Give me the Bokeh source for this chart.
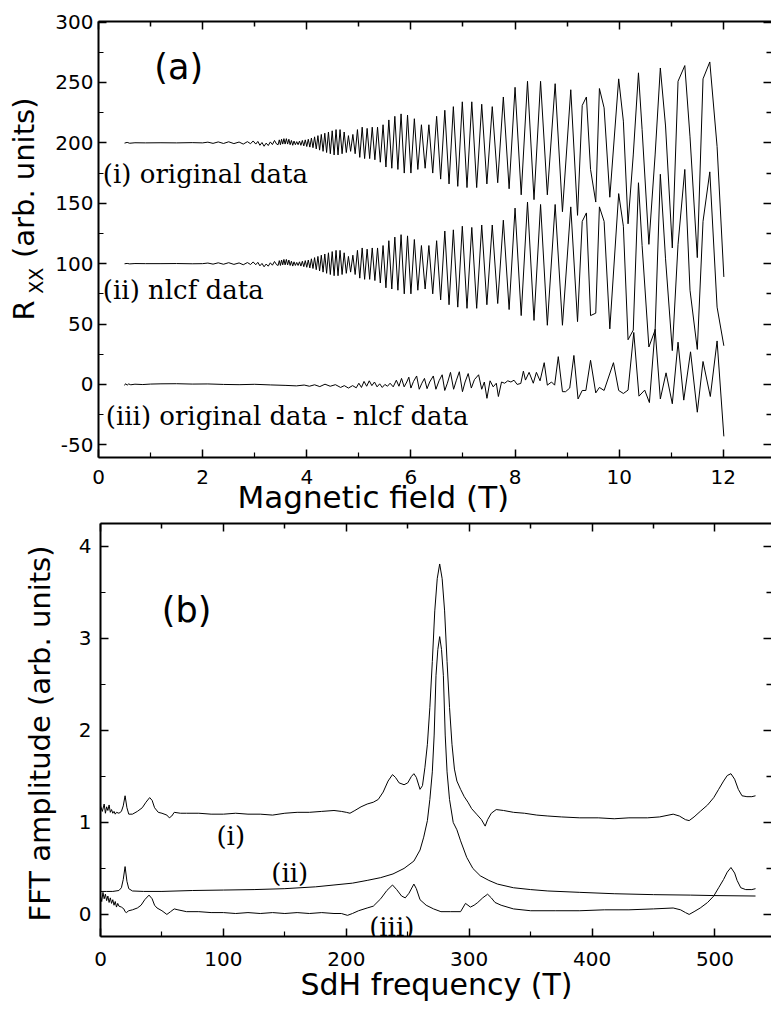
import math
from bokeh.plotting import figure
from bokeh.models import Range1d, LinearAxis, FixedTicker, Title
from bokeh.layouts import column, row
from bokeh.embed import file_html
from bokeh.resources import INLINE
from bokeh.core.properties import value

# ---------------- panel (a) data : magnetic field (T) ----------------
field_low = [0.50, 0.55, 0.60, 0.70, 0.90, 1.20, 1.50, 1.80, 2.00, 2.10, 2.20, 2.30, 2.40, 2.50,
             2.60, 2.70, 2.78, 2.86, 2.92, 2.97, 3.02, 3.06, 3.10, 3.14, 3.18, 3.22, 3.26, 3.30,
             3.34, 3.38, 3.42]
field_mid = [3.450, 3.472, 3.494, 3.516, 3.538, 3.561, 3.584, 3.608, 3.632, 3.656, 3.680, 3.705,
             3.730, 3.755, 3.781, 3.807, 3.833, 3.860, 3.887, 3.915, 3.943, 3.971, 4.000, 4.029,
             4.059, 4.089, 4.119, 4.150, 4.182, 4.214, 4.246, 4.279, 4.313, 4.346, 4.381, 4.416,
             4.452, 4.488, 4.525, 4.562, 4.600, 4.639, 4.678, 4.718, 4.759, 4.800, 4.842, 4.885,
             4.929, 4.973, 5.018, 5.064, 5.111, 5.159, 5.208, 5.257, 5.308, 5.359, 5.412, 5.465,
             5.520, 5.576, 5.633, 5.691, 5.750, 5.811, 5.872, 5.935, 6.000, 6.066, 6.133, 6.202,
             6.273, 6.345, 6.419, 6.494, 6.571, 6.651, 6.732, 6.815, 6.900, 6.987, 7.077, 7.169,
             7.263, 7.360, 7.459, 7.562, 7.667, 7.775, 7.886, 8.000, 8.118, 8.239, 8.364]
field_high = [8.49, 8.62, 8.77, 8.91, 9.07, 9.20, 9.29, 9.37, 9.45, 9.55, 9.62, 9.71, 9.82, 9.99,
              10.08, 10.17, 10.27, 10.37, 10.44, 10.57, 10.69, 10.79, 10.89, 11.02, 11.13, 11.26,
              11.36, 11.50, 11.61, 11.74, 11.88, 12.01]

original_low = [199.8, 200.4, 199.7, 200.1, 200.0, 200.1, 200.0, 200.2, 200.0, 200.6, 199.6, 200.8,
                199.5, 200.9, 199.4, 200.7, 199.0, 201.0, 199.3, 201.6, 199.0, 201.2, 198.0, 200.3,
                197.2, 199.8, 197.8, 200.8, 198.6, 202.0, 199.0]
original_mid = [198.5, 202.5, 198.5, 203, 199, 203.5, 199, 203.5, 199, 203, 198.5, 202, 198, 201.5,
                198.5, 201, 198.5, 201.5, 198, 202, 197.5, 202.5, 197, 203, 196.5, 204, 196, 205,
                195, 206, 194, 207, 193, 208, 192, 209, 191, 210, 190, 211, 190, 211, 191, 209,
                192, 206, 193, 207, 191, 211, 188, 213, 187, 212, 187, 213, 186, 213, 184, 215,
                180, 219, 179, 222, 178, 224, 175, 223, 175, 220, 178, 215, 179, 215, 175, 222,
                170, 227, 166, 230, 164, 234, 163, 234, 163, 232, 166, 230, 167, 238, 162, 246,
                157, 251, 153]
original_high = [251, 157, 249, 143, 244, 140, 231, 238, 178, 151, 245, 229, 155, 253, 218, 133,
                 190, 258, 211, 116, 190, 262, 214, 113, 251, 264, 205, 105, 253, 267, 197, 89]

nlcf_low = [99.9, 100.2, 99.8, 100.1, 100.0, 100.0, 100.1, 99.9, 100.0, 100.5, 99.6, 100.7, 99.5,
            100.8, 99.4, 100.6, 99.1, 100.9, 99.3, 101.4, 99.1, 101.1, 98.2, 100.2, 97.4, 99.7,
            97.9, 100.7, 98.7, 101.8, 99.1]
nlcf_mid = [98.5, 102.5, 98.5, 103, 99, 103.5, 99, 103.5, 99, 103, 98.5, 102, 98, 101.5, 98.5,
            101, 98.5, 101.5, 98, 102, 97.5, 102.5, 97, 103, 96.5, 104, 96, 105, 95, 106, 94, 107,
            93, 108, 92, 109, 91, 110, 90, 111, 90, 111, 91, 109, 92, 106, 93, 107, 91, 111, 88,
            113, 87, 112, 87, 113, 86, 113, 84, 115, 80, 119, 79, 122, 78, 124, 75, 123, 75, 120,
            78, 115, 79, 115, 75, 119, 70, 127, 66, 128, 64, 131, 63, 130, 63, 132, 66, 132, 67,
            136, 62, 146, 57, 151, 53]
nlcf_high = [149, 49, 149, 49, 147, 52, 135, 142, 57, 59, 147, 135, 46, 158, 131, 37, 45, 167,
             115, 31, 45, 174, 104, 28, 116, 178, 78, 29, 135, 176, 64, 32]

diff_field = [0.50, 0.52, 0.55, 0.58, 0.62, 0.70, 0.85, 1.00, 1.20, 1.50, 1.80, 2.10, 2.40, 2.70,
              3.00, 3.30, 3.60, 3.80, 3.95, 4.05, 4.15, 4.25, 4.35, 4.45, 4.55, 4.65, 4.72, 4.80,
              4.88, 4.95, 5.00, 5.05, 5.10, 5.15, 5.20, 5.25, 5.30, 5.35, 5.40, 5.45, 5.50, 5.55,
              5.60, 5.66, 5.72, 5.77, 5.82, 5.87, 5.92, 5.96, 6.00, 6.05, 6.11, 6.16, 6.21, 6.26,
              6.31, 6.36, 6.43, 6.48, 6.54, 6.60, 6.65, 6.70, 6.76, 6.82, 6.87, 6.93, 6.99, 7.04,
              7.10, 7.16, 7.22, 7.30, 7.36, 7.41, 7.46, 7.52, 7.58, 7.64, 7.68, 7.74, 7.80, 7.86,
              7.92, 7.98, 8.04, 8.11, 8.16, 8.20, 8.27, 8.35, 8.41, 8.48, 8.56, 8.62, 8.70, 8.76,
              8.83, 8.91, 8.97, 9.05, 9.13, 9.21, 9.29, 9.36, 9.45, 9.55, 9.62, 9.71, 9.89, 9.99,
              10.08, 10.17, 10.28, 10.38, 10.49, 10.58, 10.69, 10.79, 10.90, 11.02, 11.13, 11.24,
              11.37, 11.50, 11.61, 11.75, 11.88, 12.01]
diff_values = [-0.8, 0.6, -0.6, 0.4, -0.3, 0.2, -0.1, 0.3, 0.5, 0.6, 0.3, 0.4, 0.0, -0.2, 0.1,
               -0.4, -0.8, -1.2, -0.5, -1.5, -0.3, -1.8, 0.2, -1.5, -0.2, -2.5, -1.0, -3.0, -1.0,
               -2.8, 1.0, -2.5, 2.5, -1.5, 3.0, -1.0, 2.0, -2.0, 0.5, -2.5, 0.0, -1.5, 1.0, -2.0,
               3.5, -1.5, 5.0, -2.0, 2.0, 6.0, -3.0, 2.5, 7.0, -4.0, 1.0, 5.0, -3.5, 2.0, 7.0,
               -4.0, 3.0, 8.0, -5.0, 1.0, 10.0, -4.0, 3.0, 10.5, -6.0, 2.0, 9.0, -3.0, 4.0, 8.0,
               -4.0, 2.0, -11.5, 3.0, -2.0, 1.0, -10.0, 2.0, 1.0, 3.0, 2.0, 3.5, 0.0, 0.8, 11.0,
               3.6, 10.0, 1.0, 10.0, 3.0, 18.0, -0.6, 2.0, -0.6, 23.0, -6.0, -6.0, -3.0, 24.0,
               -12.0, -5.0, -5.0, 20.0, -7.0, -2.5, -5.0, 18.0, -5.0, -7.5, -4.7, 43.0, -9.7,
               -4.7, -15.0, 45.6, -12.0, 9.6, -16.0, 35.0, -13.0, 27.0, -23.0, 19.0, -10.0,
               36.0, -43.0]

# ---------------- panel (b) data : SdH frequency (T) ----------------
fft_orig_f = [0, 1.5, 3, 4, 5, 6, 7, 8, 9, 10, 11, 12, 13, 15, 17, 18.5, 20, 21.5, 23, 26, 30, 34,
              37, 40, 42, 44, 47, 50, 54, 56, 58, 60, 65, 70, 80, 90, 100, 110, 120, 130, 140,
              150, 160, 170, 180, 190, 196, 200, 203, 207, 212, 217, 222, 226, 230, 234, 237.6,
              240, 243, 247, 250, 253, 255, 257, 260, 262, 264, 266, 268, 270, 272, 274, 276,
              278, 280, 282, 284, 286, 288, 290, 293, 296, 299, 302, 306, 310, 313, 315, 318,
              322, 328, 336, 345, 355, 364, 375, 390, 405, 418, 430, 445, 455, 466, 471, 476,
              479, 483, 488, 494, 499, 503, 507, 510, 513, 516, 519, 522, 526, 530, 533]
fft_orig_a = [1.18, 1.12, 1.20, 1.10, 1.17, 1.13, 1.19, 1.11, 1.14, 1.10, 1.12, 1.09, 1.11, 1.10,
              1.12, 1.18, 1.29, 1.16, 1.09, 1.09, 1.12, 1.16, 1.22, 1.27, 1.24, 1.16, 1.11, 1.10,
              1.08, 1.05, 1.07, 1.11, 1.10, 1.10, 1.10, 1.09, 1.09, 1.10, 1.09, 1.09, 1.08, 1.10,
              1.11, 1.11, 1.12, 1.13, 1.12, 1.11, 1.10, 1.13, 1.17, 1.20, 1.22, 1.25, 1.33, 1.45,
              1.52, 1.49, 1.43, 1.41, 1.43, 1.50, 1.53, 1.49, 1.36, 1.40, 1.60, 1.85, 2.25, 2.75,
              3.30, 3.65, 3.81, 3.65, 3.30, 2.75, 2.25, 1.85, 1.58, 1.45, 1.36, 1.28, 1.22, 1.15,
              1.09, 1.03, 0.96, 1.03, 1.10, 1.14, 1.13, 1.11, 1.10, 1.08, 1.07, 1.06, 1.05, 1.05,
              1.04, 1.05, 1.05, 1.06, 1.09, 1.07, 1.03, 1.02, 1.06, 1.12, 1.19, 1.27, 1.36, 1.45,
              1.51, 1.53, 1.47, 1.36, 1.29, 1.28, 1.28, 1.29]

fft_nlcf_f = [0, 5, 10, 15, 17, 18.5, 20, 21.5, 23, 26, 35, 50, 75, 100, 125, 150, 175, 190, 205,
              217, 228, 238, 247, 255, 260, 263, 266, 268, 270, 271.5, 273, 274.5, 276, 277.5,
              279, 280.5, 282, 284, 287, 290, 293, 298, 303, 309, 316, 323, 336, 350, 364, 390,
              418, 450, 480, 499, 533]
fft_nlcf_a = [0.25, 0.25, 0.25, 0.26, 0.29, 0.38, 0.52, 0.36, 0.28, 0.255, 0.25, 0.25, 0.26,
              0.265, 0.27, 0.28, 0.30, 0.32, 0.34, 0.37, 0.40, 0.44, 0.50, 0.58, 0.70, 0.84, 1.02,
              1.25, 1.55, 1.95, 2.60, 2.88, 3.02, 2.88, 2.60, 1.95, 1.55, 1.25, 1.00, 0.92, 0.80,
              0.62, 0.50, 0.42, 0.37, 0.33, 0.29, 0.27, 0.255, 0.24, 0.225, 0.215, 0.21, 0.205,
              0.20]

fft_diff_f = [0, 1, 2, 3, 4, 5, 6, 7, 8, 9, 10, 11, 12, 13, 14, 15, 17, 19, 20, 21, 23, 26, 30, 33,
              36, 39.5, 42, 44, 46, 50, 54, 57, 60, 63, 70, 80, 90, 100, 110, 120, 130, 140, 150,
              160, 170, 180, 190, 196, 201, 205, 210, 217, 222, 228, 233, 237.6, 241, 245, 248,
              251, 255, 257, 260, 265, 271, 277, 285, 293, 297, 301, 304, 307, 311, 315, 318, 321,
              326, 336, 350, 370, 390, 410, 430, 450, 466, 472, 476, 479, 483, 488, 494, 499, 503,
              507, 510, 513, 516, 518, 521, 525, 530, 533]
fft_diff_a = [0.20, 0.14, 0.24, 0.17, 0.22, 0.15, 0.20, 0.13, 0.18, 0.12, 0.16, 0.10, 0.14, 0.08,
              0.12, 0.09, 0.08, 0.06, 0.03, 0.02, 0.04, 0.05, 0.07, 0.10, 0.16, 0.21, 0.17, 0.10,
              0.07, 0.04, 0.00, 0.03, 0.06, 0.05, 0.03, 0.03, 0.02, 0.02, 0.01, 0.02, 0.01, 0.02,
              0.01, 0.02, 0.01, 0.02, 0.01, 0.01, -0.01, 0.01, 0.04, 0.07, 0.09, 0.17, 0.26, 0.32,
              0.27, 0.20, 0.18, 0.23, 0.33, 0.28, 0.16, 0.10, 0.06, 0.03, 0.03, 0.03, 0.12, 0.08,
              0.10, 0.13, 0.18, 0.22, 0.18, 0.13, 0.10, 0.06, 0.04, 0.04, 0.04, 0.05, 0.05, 0.06,
              0.07, 0.05, 0.02, 0.00, 0.03, 0.07, 0.13, 0.20, 0.29, 0.38, 0.46, 0.51, 0.45, 0.37,
              0.29, 0.27, 0.27, 0.28]

# ticks
a_x_major = [0, 2, 4, 6, 8, 10, 12]
a_x_minor = [1, 3, 5, 7, 9, 11]
a_y_major = [-50, 0, 50, 100, 150, 200, 250, 300]
a_y_minor = [-25, 25, 75, 125, 175, 225, 275]
b_x_major = [0, 100, 200, 300, 400, 500]
b_x_minor = [50, 150, 250, 350, 450]
b_y_major = [0, 1, 2, 3, 4]
b_y_minor = [0.5, 1.5, 2.5, 3.5]

SANS = "DejaVu Sans"
SERIF = "DejaVu Serif"


def style(ax, standoff):
    ax.axis_line_width = 2
    ax.axis_line_color = "black"
    ax.major_tick_in = 8
    ax.major_tick_out = 0
    ax.minor_tick_in = 5
    ax.minor_tick_out = 0
    ax.major_tick_line_width = 1.5
    ax.minor_tick_line_width = 1.2
    ax.major_tick_line_color = "black"
    ax.minor_tick_line_color = "black"
    ax.major_label_text_font = SANS
    ax.major_label_text_font_size = "20px"
    ax.major_label_text_color = "black"
    ax.major_label_standoff = standoff


def tick_only_axis(positions, length, line):
    # axis without labels: the positions are given as minor ticks only
    ax = LinearAxis(ticker=FixedTicker(ticks=[], minor_ticks=positions))
    ax.axis_line_width = 2
    ax.axis_line_color = "black" if line else None
    ax.major_tick_in = 0
    ax.major_tick_out = 0
    ax.minor_tick_in = length
    ax.minor_tick_out = 0
    ax.minor_tick_line_width = 1.5
    ax.minor_tick_line_color = "black"
    ax.major_label_standoff = 0
    return ax


def make_fig(w, h, xr, yr, left, top, bottom):
    p = figure(width=w, height=h, x_range=Range1d(*xr), y_range=Range1d(*yr),
               output_backend="svg", toolbar_location=None,
               min_border_left=left, min_border_right=0, min_border_top=top,
               min_border_bottom=bottom, x_axis_location=None, y_axis_location=None)
    p.outline_line_color = None
    p.xgrid.visible = False
    p.ygrid.visible = False
    p.background_fill_color = "white"
    p.border_fill_color = "white"
    return p


def strip(w, h, ytop, ybottom):
    # blank text strip; its frame is aligned with the neighbouring plot frame,
    # its data units are page pixels
    s = figure(width=w, height=h, x_range=Range1d(0, w), y_range=Range1d(ybottom, ytop),
               output_backend="svg", toolbar_location=None, min_border=0,
               x_axis_location=None, y_axis_location=None)
    s.outline_line_color = None
    s.xgrid.visible = False
    s.ygrid.visible = False
    s.background_fill_color = "white"
    s.border_fill_color = "white"
    return s


def add_axes(p, xt, xm, yt, ym, xstand, ystand):
    bx = LinearAxis(ticker=FixedTicker(ticks=xt, minor_ticks=xm))
    style(bx, xstand)
    p.add_layout(bx, "below")
    ly = LinearAxis(ticker=FixedTicker(ticks=yt, minor_ticks=ym))
    style(ly, ystand)
    p.add_layout(ly, "left")
    p.add_layout(tick_only_axis(xt, 8, True), "above")
    p.add_layout(tick_only_axis(xm, 5, False), "above")
    p.add_layout(tick_only_axis(yt, 8, False), "right")
    p.add_layout(tick_only_axis(ym, 5, False), "right")
    return ly


# ---------------- panel (a) ----------------
HA = 518
A_TOP, A_BOT = 21, 457
sa = strip(48, HA, A_TOP, A_BOT)
sa.text(x=[23.3], y=[320], text=["R"], angle=math.pi / 2, text_font=value(SANS),
        text_font_size="29px", text_align="left", text_baseline="middle", text_color="black")
sa.text(x=[35.1], y=[293.3], text=["XX"], angle=math.pi / 2, text_font=value(SANS),
        text_font_size="19px", text_align="left", text_baseline="middle", text_color="black")
sa.text(x=[23.3], y=[257.5], text=["(arb. units)"], angle=math.pi / 2, text_font=value(SANS),
        text_font_size="29px", text_align="left", text_baseline="middle", text_color="black")

pa = make_fig(723, HA, (0, 12.925), (-60.5, 300.5), 50, A_TOP, HA - A_BOT)
ly_a = add_axes(pa, a_x_major, a_x_minor, a_y_major, a_y_minor, 12, 5)
ly_a.major_label_overrides = {-50: "-50"}

pa.line(field_low + field_mid + field_high, original_low + original_mid + original_high,
        line_color="black", line_width=1)
pa.line(field_low + field_mid + field_high, nlcf_low + nlcf_mid + nlcf_high,
        line_color="black", line_width=1)
pa.line(diff_field, diff_values, line_color="black", line_width=1)

pa.text(x=[1.54], y=[263], text=["(a)"], text_font=value(SANS), text_font_size="35px",
        text_align="center", text_baseline="middle", text_color="black")
pa.text(x=[0.084, 0.084, 0.14], y=[174.4, 78, -25.9],
        text=["(i) original data", "(ii) nlcf data", "(iii) original data - nlcf data"],
        text_font=value(SERIF), text_font_size="26px", text_align="left",
        text_baseline="middle", text_color="black")
pa.add_layout(Title(text="Magnetic field (T)", align="left", offset=139, standoff=-20,
                    vertical_align="bottom", text_font=SANS, text_font_size="31px",
                    text_font_style="normal", text_color="black"), "below")

# ---------------- panel (b) ----------------
HB = 490
B_TOP, B_BOT = 523, 936
sb = strip(58, HB, B_TOP, B_BOT)
sb.text(x=[39], y=[733], text=["FFT amplitude (arb. units)"], angle=math.pi / 2,
        text_font=value(SANS), text_font_size="29px", text_align="center",
        text_baseline="middle", text_color="black")

pb = make_fig(713, HB, (0, 546), (-0.24, 4.25), 42, B_TOP - HA, HB - (B_BOT - HA))
add_axes(pb, b_x_major, b_x_minor, b_y_major, b_y_minor, 15, 9)

pb.line(fft_orig_f, fft_orig_a, line_color="black", line_width=1)
pb.line(fft_nlcf_f, fft_nlcf_a, line_color="black", line_width=1)
pb.line(fft_diff_f, fft_diff_a, line_color="black", line_width=1)

pb.text(x=[70], y=[3.31], text=["(b)"], text_font=value(SANS), text_font_size="35px",
        text_align="center", text_baseline="middle", text_color="black")
pb.text(x=[106, 154, 237], y=[0.855, 0.45, -0.14], text=["(i)", "(ii)", "(iii)"],
        text_font=value(SERIF), text_font_size="26px", text_align="center",
        text_baseline="middle", text_color="black")
pb.add_layout(Title(text="SdH frequency (T)", align="left", offset=200, standoff=-8,
                    vertical_align="bottom", text_font=SANS, text_font_size="30px",
                    text_font_style="normal", text_color="black"), "below")

layout = column(row(sa, pa), row(sb, pb))
open("out.html", "w").write(file_html(layout, INLINE))
